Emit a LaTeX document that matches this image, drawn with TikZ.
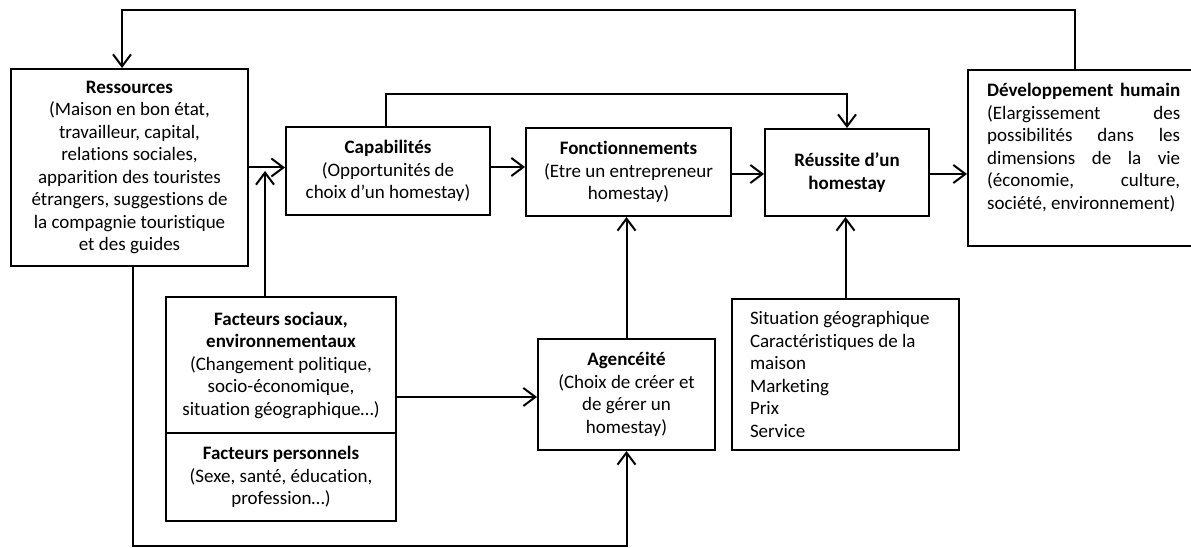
\documentclass[tikz,border=0pt]{standalone}
\usepackage{fontspec}
\setmainfont{Carlito}[Ligatures={NoCommon,TeX}]
\usetikzlibrary{arrows.meta,calc}
\begin{document}
\begin{tikzpicture}[x=1pt,y=-1pt,
  every node/.style={font=\fontsize{19}{22.5}\selectfont},
  box/.style={draw, line width=2pt, rectangle, inner sep=0pt, align=center},
  arr/.style={line width=2pt, -{Straight Barb[length=12pt,width=18pt,line width=2pt]}},
  ln/.style={line width=2pt}]
\useasboundingbox (0,0) rectangle (1191,548);
\fill[white] (0,0) rectangle (1191,548);

\node[box, minimum width=237pt, minimum height=197pt] (res) at (129.5,167.5)
 {\textbf{Ressources}\\(Maison en bon état,\\travailleur, capital,\\relations sociales,\\apparition des touristes\\étrangers, suggestions de\\la compagnie touristique\\et des guides};
\node[box, minimum width=204pt, minimum height=88pt] (cap) at (388,171)
 {\textbf{Capabilités}\\(Opportunités de\\choix d’un homestay)};
\node[box, minimum width=205pt, minimum height=88pt] (fon) at (628.5,172)
 {\textbf{Fonctionnements}\\(Etre un entrepreneur\\homestay)};
\node[box, minimum width=164pt, minimum height=87pt] (reu) at (847,172.5)
 {\textbf{Réussite d’un}\\\textbf{homestay}};
\node[box, minimum width=228pt, minimum height=176pt, anchor=north west] (dev) at (967,69) {};
\node[anchor=north west, inner sep=0pt, align=left] (devt) at (987,83)
 {\makebox[193pt][s]{\textbf{Développement humain}}\\
  \makebox[193pt][s]{(Elargissement des}\\
  \makebox[193pt][s]{possibilités dans les}\\
  \makebox[193pt][s]{dimensions de la vie}\\
  \makebox[193pt][s]{(économie, culture,}\\
  société, environnement)};

\node[box, minimum width=230pt, minimum height=136pt] (fac1) at (281,365)
 {\textbf{Facteurs sociaux,}\\\textbf{environnementaux}\\(Changement politique,\\socio-économique,\\situation géographique…)};
\node[box, minimum width=230pt, minimum height=88pt] (fac2) at (281,477)
 {\textbf{Facteurs personnels}\\(Sexe, santé, éducation,\\profession…)};
\node[box, minimum width=177pt, minimum height=111pt] (age) at (626.5,394.5)
 {\textbf{Agencéité}\\(Choix de créer et\\de gérer un\\homestay)};
\node[box, minimum width=227pt, minimum height=151pt, align=flush left, text width=191pt, inner xsep=18pt] (rf) at (845.5,374.5)
 {Situation géographique\\Caractéristiques de la\\maison\\Marketing\\Prix\\Service};

% connectors
\draw[arr] (res.east) -- (res.east -| cap.west);
\coordinate (j1) at (265,171);
\draw[arr] (j1 |- fac1.north) -- (j1);
\draw[arr] ([yshift=4pt]cap.east) -- ([yshift=4pt]cap.east -| fon.west);
\draw[arr] ([yshift=-2pt]fon.east) -- ([yshift=-2pt]fon.east -| reu.west);
\draw[arr] ([yshift=-1.5pt]reu.east) -- ([yshift=-1.5pt]reu.east -| dev.west);
\coordinate (t1) at (386,94);
\draw[arr] (t1 |- cap.north) -- (t1) -| (reu.north);
\coordinate (t2) at (1075,10);
\coordinate (t3) at (122,10);
\draw[arr] (t2 |- dev.north) -- (t2) -- (t3) -- (t3 |- res.north);
\draw[arr] ([yshift=-2.5pt]fac1.east |- age.west) -- ([yshift=-2.5pt]age.west);
\draw[arr] (age.north) -- (age.north |- fon.south);
\coordinate (b1) at (133,546);
\draw[arr] (b1 |- res.south) -- (b1) -| (age.south);
\draw[arr] (rf.north) -- (rf.north |- reu.south);
\end{tikzpicture}
\end{document}
